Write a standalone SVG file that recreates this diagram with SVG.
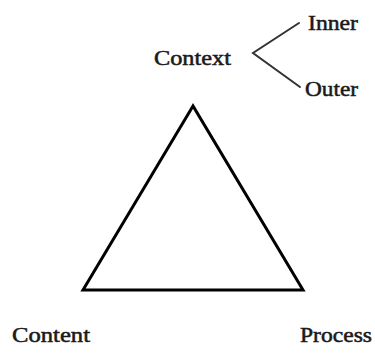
<svg xmlns="http://www.w3.org/2000/svg" width="375" height="362" viewBox="0 0 375 362">
<style>
  .lbl { font-family: "Liberation Serif", "DejaVu Serif", serif; font-size: 20px; fill: #1a1a1a; stroke: #1a1a1a; stroke-width: 0.5; }
  .edge { stroke: #333; stroke-width: 2; fill: none; stroke-linecap: round; }
  .tri { stroke: #000; stroke-width: 3; fill: none; stroke-linejoin: miter; }
</style>
<rect width="375" height="362" fill="#fff"/>
<g id="triangle">
  <polygon class="tri" points="193,106 83,290 303,290"/>
</g>
<g id="connectors">
  <polyline class="edge" points="299,23 253,53 300,87"/>
</g>
<g id="context"><text class="lbl" x="154" y="65" textLength="77" lengthAdjust="spacingAndGlyphs">Context</text></g>
<g id="inner"><text class="lbl" x="308" y="30" textLength="50" lengthAdjust="spacingAndGlyphs">Inner</text></g>
<g id="outer"><text class="lbl" x="305" y="96" textLength="53" lengthAdjust="spacingAndGlyphs">Outer</text></g>
<g id="content"><text class="lbl" x="12" y="342" textLength="78" lengthAdjust="spacingAndGlyphs">Content</text></g>
<g id="process"><text class="lbl" x="300" y="342" textLength="72" lengthAdjust="spacingAndGlyphs">Process</text></g>
</svg>
